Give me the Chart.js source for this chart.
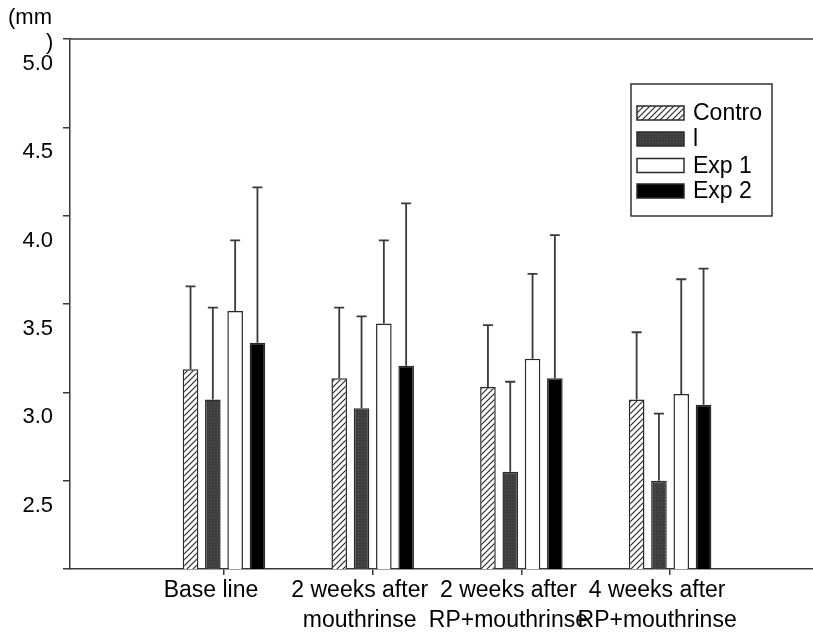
<!DOCTYPE html>
<html>
<head>
<meta charset="utf-8">
<script src="https://cdn.jsdelivr.net/npm/chart.js@4.4.1/dist/chart.umd.min.js"></script>
<style>
  body { margin: 0; background: #fff; }
  canvas { display: block; }
</style>
</head>
<body>
<canvas id="graph" width="813" height="635"></canvas>
<script>
// data
var categories = [
    ['Base line'],
    ['2 weeks after', 'mouthrinse'],
    ['2 weeks after', 'RP+mouthrinse'],
    ['4 weeks after', 'RP+mouthrinse']
];
var categoryPos = [1, 2, 3, 4];
var seriesNames = ['Contro', 'l', 'Exp 1', 'Exp 2'];
var controlMean = [3.13, 3.08, 3.03, 2.96];
var controlSd   = [0.47, 0.40, 0.35, 0.38];
var lMean       = [2.96, 2.91, 2.55, 2.50];
var lSd         = [0.52, 0.52, 0.51, 0.38];
var exp1Mean    = [3.46, 3.39, 3.19, 2.99];
var exp1Sd      = [0.40, 0.47, 0.48, 0.65];
var exp2Mean    = [3.28, 3.15, 3.08, 2.93];
var exp2Sd      = [0.88, 0.92, 0.81, 0.77];
var yTickLabels = ['', '2.5', '3.0', '3.5', '4.0', '4.5', '5.0'];

var FONT = '"Liberation Sans", Arial, sans-serif';
var AXIS = '#3a3a3a';

var ctx = document.getElementById('graph').getContext('2d');

// fill patterns
function makeHatch() {
    var c = document.createElement('canvas');
    c.width = 6; c.height = 6;
    var g = c.getContext('2d');
    g.fillStyle = '#fff';
    g.fillRect(0, 0, 6, 6);
    g.strokeStyle = '#222';
    g.lineWidth = 1.1;
    g.beginPath();
    g.moveTo(0, 6); g.lineTo(6, 0);
    g.moveTo(-1, 1); g.lineTo(1, -1);
    g.moveTo(5, 7); g.lineTo(7, 5);
    g.stroke();
    return ctx.createPattern(c, 'repeat');
}
function makeDots() {
    var c = document.createElement('canvas');
    c.width = 3; c.height = 3;
    var g = c.getContext('2d');
    g.fillStyle = '#3e3e3e';
    g.fillRect(0, 0, 3, 3);
    g.fillStyle = '#565656';
    g.fillRect(1, 1, 1, 1);
    return ctx.createPattern(c, 'repeat');
}

var fills = [makeHatch(), makeDots(), '#ffffff', '#000000'];
var means = [controlMean, lMean, exp1Mean, exp2Mean];
var sds = [controlSd, lSd, exp1Sd, exp2Sd];

var datasets = [];
for (var i = 0; i < seriesNames.length; i++) {
    datasets.push({
        label: seriesNames[i],
        data: categoryPos.map(function (x, j) { return { x: x, y: means[i][j] }; }),
        sd: sds[i],
        backgroundColor: fills[i],
        borderColor: '#2b2b2b',
        borderWidth: 1.5,
        categoryPercentage: 0.6,
        barPercentage: 0.7
    });
}

// upper error whiskers
var errorBars = {
    id: 'errorBars',
    afterDatasetsDraw: function (chart) {
        var y = chart.scales.y;
        var c = chart.ctx;
        c.save();
        c.strokeStyle = '#3a3a3a';
        c.lineWidth = 1.8;
        chart.data.datasets.forEach(function (ds, i) {
            chart.getDatasetMeta(i).data.forEach(function (bar, j) {
                var top = y.getPixelForValue(ds.data[j].y + ds.sd[j]);
                c.beginPath();
                c.moveTo(bar.x, bar.y);
                c.lineTo(bar.x, top);
                c.moveTo(bar.x - 5, top);
                c.lineTo(bar.x + 5, top);
                c.stroke();
            });
        });
        c.restore();
    }
};

// top frame line, unit label and boxed legend
var decor = {
    id: 'decor',
    afterDraw: function (chart) {
        var c = chart.ctx;
        var area = chart.chartArea;
        c.save();
        c.strokeStyle = AXIS;
        c.lineWidth = 1.5;
        c.beginPath();
        c.moveTo(area.left, area.top);
        c.lineTo(chart.width, area.top);
        c.stroke();

        c.fillStyle = '#000';
        c.font = '22px ' + FONT;
        c.textBaseline = 'middle';
        c.textAlign = 'left';
        c.fillText('(mm', 8, 18);
        c.fillText(')', 46, 43);

        // legend
        c.strokeStyle = '#333';
        c.lineWidth = 1.5;
        c.strokeRect(631, 84, 141, 132);
        var rows = [113, 139, 165.5, 191];
        c.font = '23px ' + FONT;
        chart.data.datasets.forEach(function (ds, i) {
            c.fillStyle = ds.backgroundColor;
            c.fillRect(637, rows[i] - 7, 47, 14);
            c.strokeStyle = '#2b2b2b';
            c.strokeRect(637, rows[i] - 7, 47, 14);
            c.fillStyle = '#000';
            c.fillText(ds.label, 693, rows[i] + 1);
        });
        c.restore();
    }
};

var chart = new Chart(ctx, {
    type: 'bar',
    data: { datasets: datasets },
    options: {
        responsive: false,
        animation: false,
        // plot frame runs past the right edge of the picture
        layout: { padding: { top: 39, right: -6, left: 0, bottom: 0 } },
        plugins: {
            legend: { display: false },
            tooltip: { enabled: false }
        },
        scales: {
            x: {
                type: 'linear',
                min: -0.0356,
                max: 4.961,
                offset: false,
                afterBuildTicks: function (scale) {
                    scale.ticks = categoryPos.map(function (v) { return { value: v }; });
                },
                afterFit: function (scale) { scale.height = 66; },
                grid: {
                    offset: false,
                    drawOnChartArea: false,
                    drawTicks: true,
                    tickLength: 6,
                    color: AXIS,
                    lineWidth: 1.5
                },
                border: { display: true, color: AXIS, width: 1.5 },
                ticks: {
                    autoSkip: false,
                    maxRotation: 0,
                    padding: 0,
                    labelOffset: -13,
                    color: '#000',
                    font: { family: FONT, size: 23, lineHeight: 1.33 },
                    callback: function (v) {
                        var k = categoryPos.indexOf(v);
                        return k < 0 ? '' : categories[k];
                    }
                }
            },
            y: {
                min: 2,
                max: 5,
                afterFit: function (scale) { scale.width = 70; },
                grid: {
                    drawOnChartArea: false,
                    drawTicks: true,
                    tickLength: 7,
                    color: AXIS,
                    lineWidth: 1.5
                },
                border: { display: true, color: AXIS, width: 1.5 },
                ticks: {
                    stepSize: 0.5,
                    padding: 10,
                    labelOffset: 25,
                    color: '#000',
                    font: { family: FONT, size: 22 },
                    callback: function (v, i) { return yTickLabels[i]; }
                }
            }
        }
    },
    plugins: [errorBars, decor]
});
</script>
</body>
</html>
